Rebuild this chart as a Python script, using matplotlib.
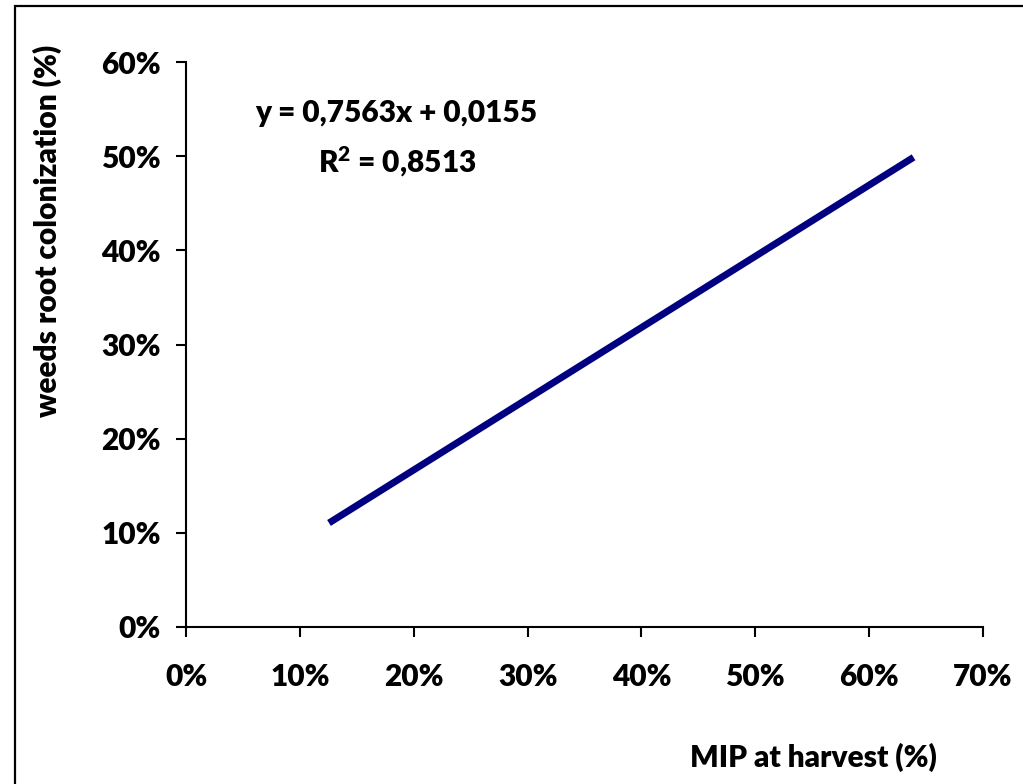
import numpy as np
import matplotlib
matplotlib.use("Agg")
import matplotlib.pyplot as plt
from matplotlib.patches import Rectangle
from matplotlib.ticker import PercentFormatter

# fitted trendline: y = slope * x + intercept over the observed MIP range
slope = 0.7563
intercept = 0.0155
r_squared = 0.8513
mip_range = [0.1256, 0.639]

x_ticks = [0.0, 0.1, 0.2, 0.3, 0.4, 0.5, 0.6, 0.7]
y_ticks = [0.0, 0.1, 0.2, 0.3, 0.4, 0.5, 0.6]

FS = 21.5
WEIGHT = "heavy"
plt.rcParams["font.family"] = ["Lato", "DejaVu Sans"]
plt.rcParams["font.weight"] = WEIGHT
plt.rcParams["mathtext.fontset"] = "custom"
plt.rcParams["mathtext.rm"] = "Lato:heavy"
plt.rcParams["mathtext.it"] = "Lato:heavy"
plt.rcParams["mathtext.bf"] = "Lato:heavy"

W, H = 1023, 784
fig = plt.figure(figsize=(W / 100, H / 100), dpi=100)
ax = fig.add_axes([186 / W, 1 - 627 / H, (983 - 186) / W, (627 - 62) / H])

x_line = np.array(mip_range)
y_line = slope * x_line + intercept
ax.plot(x_line, y_line, color="#000080", linewidth=5, solid_capstyle="butt")

ax.set_xlim(0, 0.7)
ax.set_ylim(0, 0.6)
ax.set_xticks(x_ticks)
ax.set_yticks(y_ticks)
ax.xaxis.set_major_formatter(PercentFormatter(1.0, decimals=0))
ax.yaxis.set_major_formatter(PercentFormatter(1.0, decimals=0))
for side in ["top", "right"]:
    ax.spines[side].set_visible(False)
for side in ["left", "bottom"]:
    ax.spines[side].set_linewidth(1.5)
ax.tick_params(axis="both", direction="out", length=7, width=1.5,
               labelsize=FS, colors="black")
ax.tick_params(axis="x", pad=19)
ax.tick_params(axis="y", pad=11)
for lbl in ax.get_xticklabels() + ax.get_yticklabels():
    lbl.set_fontweight(WEIGHT)

fig.text(47 / W, 1 - 231 / H, "weeds root colonization (%)", rotation=90,
         ha="center", va="center", fontsize=FS, fontweight=WEIGHT)
fig.text(813 / W, 1 - 767 / H, "MIP at harvest (%)", ha="center",
         va="baseline", fontsize=FS, fontweight=WEIGHT)

eq = f"y = {slope:.4f}x + {intercept:.4f}".replace(".", ",")
r2 = f"R$^2$ = {r_squared:.4f}".replace(".", ",")
fig.text(396 / W, 1 - 122 / H, eq, ha="center", va="baseline",
         fontsize=FS, fontweight=WEIGHT)
fig.text(397 / W, 1 - 173 / H, r2, ha="center", va="baseline",
         fontsize=FS, fontweight=WEIGHT)

# outer chart frame (runs off the right and bottom edges)
fig.patches.append(Rectangle((14.5 / W, -0.1), 1.1, 1.1 - 6.5 / H,
                             transform=fig.transFigure, fill=False,
                             edgecolor="black", linewidth=1.6))

fig.savefig("out.png", dpi=100)
